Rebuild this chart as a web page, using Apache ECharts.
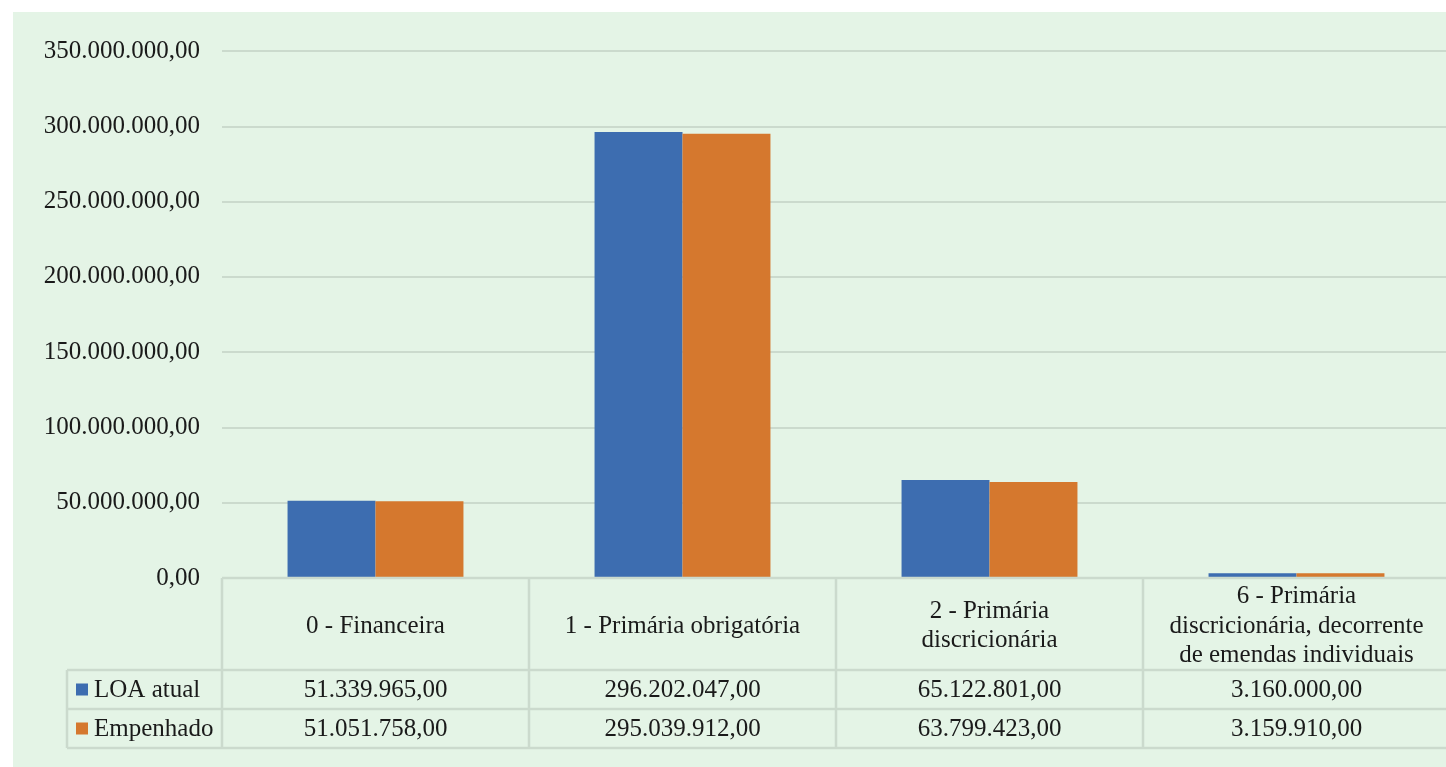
<!DOCTYPE html>
<html>
<head>
<meta charset="utf-8">
<script src="https://cdn.jsdelivr.net/npm/echarts@6/dist/echarts.min.js"></script>
<style>
  html, body { margin: 0; padding: 0; background: #ffffff; overflow: hidden; width: 1446px; height: 767px; }
  #bg { position: absolute; left: 13px; top: 12px; right: 0; bottom: 0; background: #E4F4E6; }
  #chart { position: absolute; left: 0; top: 0; width: 1450px; height: 767px; }
</style>
</head>
<body>
<div id="bg"></div>
<div id="chart"></div>
<script>
const categories = [
  '0 - Financeira',
  '1 - Primária obrigatória',
  '2 - Primária\ndiscricionária',
  '6 - Primária\ndiscricionária, decorrente\nde emendas individuais'
];
const seriesNames = ['LOA atual', 'Empenhado'];
const loaAtual = [51339965.00, 296202047.00, 65122801.00, 3160000.00];
const empenhado = [51051758.00, 295039912.00, 63799423.00, 3159910.00];
const yTicks = { min: 0, max: 350000000, interval: 50000000 };
const colors = ['#3D6DB0', '#D5782E'];

const FONT = '"Liberation Serif", serif';
const FS = 25;
const TXT = '#1a1a1a';
const LINE = '#CBDACD';

function fmt(v) {
  const fixed = v.toFixed(2);
  const [ip, dp] = fixed.split('.');
  const withDots = ip.replace(/\B(?=(\d{3})+(?!\d))/g, '.');
  return withDots + ',' + dp;
}

const chart = echarts.init(document.getElementById('chart'), null, { renderer: 'canvas' });
const option = {
  backgroundColor: 'transparent',
  animation: false,
  grid: { left: 222, top: 51, right: 0, bottom: 189, containLabel: false },
  xAxis: {
    type: 'category',
    data: categories,
    axisLine: { show: false },
    axisTick: { show: false },
    axisLabel: { show: false }
  },
  yAxis: {
    type: 'value',
    min: yTicks.min, max: yTicks.max, interval: yTicks.interval,
    axisLine: { show: false },
    axisTick: { show: false },
    splitLine: { lineStyle: { color: LINE, width: 2 } },
    axisLabel: {
      formatter: v => fmt(v),
      fontFamily: FONT, fontSize: FS, color: TXT, margin: 22
    }
  },
  series: [
    { name: seriesNames[0], type: 'bar', data: loaAtual, barGap: '0%', barCategoryGap: '42.7%',
      itemStyle: { color: colors[0] } },
    { name: seriesNames[1], type: 'bar', data: empenhado, barGap: '0%', barCategoryGap: '42.7%',
      itemStyle: { color: colors[1] } }
  ]
};
chart.setOption(option);

// Data table drawn below the axis
const c0 = chart.convertToPixel({ xAxisIndex: 0 }, 0);
const c1 = chart.convertToPixel({ xAxisIndex: 0 }, 1);
const bw = c1 - c0;
const yZero = chart.convertToPixel({ yAxisIndex: 0 }, 0);
const headerBottom = 670, row1Bottom = 709, row2Bottom = 748;
const tableLeft = 67;
const firstColLeft = c0 - bw / 2;
const rightEdge = c0 + bw * (categories.length - 0.5);

const g = [];
function hline(x1, x2, y) {
  g.push({ type: 'line', shape: { x1, y1: y, x2, y2: y }, style: { stroke: LINE, lineWidth: 2.5 }, z: 50 });
}
function vline(x, y1, y2) {
  g.push({ type: 'line', shape: { x1: x, y1, x2: x, y2 }, style: { stroke: LINE, lineWidth: 2.5 }, z: 50 });
}
hline(firstColLeft, rightEdge, yZero);
hline(tableLeft, rightEdge, headerBottom);
hline(tableLeft, rightEdge, row1Bottom);
hline(tableLeft, rightEdge, row2Bottom);
vline(tableLeft, headerBottom, row2Bottom);
for (let i = 0; i <= categories.length; i++) {
  vline(firstColLeft + i * bw, yZero, row2Bottom);
}
const rows = [loaAtual, empenhado];
const rowCenters = [(headerBottom + row1Bottom) / 2 + 1, (row1Bottom + row2Bottom) / 2 + 1];
categories.forEach((cat, i) => {
  const cx = c0 + i * bw;
  g.push({ type: 'text', z: 60, style: {
    text: cat, x: cx, y: (yZero + headerBottom) / 2 + 2, align: 'center', verticalAlign: 'middle',
    font: FS + 'px ' + FONT, fill: TXT, lineHeight: 29.5
  }});
  rows.forEach((r, j) => {
    g.push({ type: 'text', z: 60, style: {
      text: fmt(r[i]), x: cx, y: rowCenters[j], align: 'center', verticalAlign: 'middle',
      font: FS + 'px ' + FONT, fill: TXT
    }});
  });
});
seriesNames.forEach((n, j) => {
  g.push({ type: 'rect', z: 60, shape: { x: 76, y: rowCenters[j] - 7, width: 12, height: 12 }, style: { fill: colors[j] } });
  g.push({ type: 'text', z: 60, style: {
    text: n, x: 94, y: rowCenters[j], align: 'left', verticalAlign: 'middle',
    font: FS + 'px ' + FONT, fill: TXT
  }});
});
chart.setOption({ graphic: { elements: g } });
</script>
</body>
</html>
